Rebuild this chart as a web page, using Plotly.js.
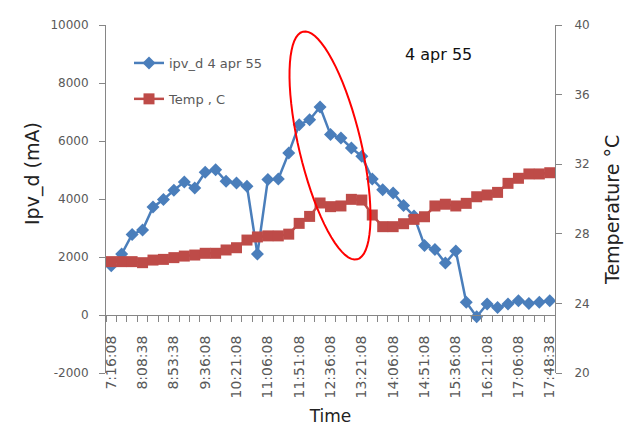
<!DOCTYPE html>
<html><head><meta charset="utf-8">
<script src="https://cdn.plot.ly/plotly-3.0.1.min.js"></script>
<style>html,body{margin:0;padding:0;background:#fff}</style>
</head><body><div id="chart" style="width:628px;height:435px"></div>
<script>
const tickLabels = ["7:16:08","8:08:38","8:53:38","9:36:08","10:21:08","11:06:08","11:51:08","12:36:08","13:21:08","14:06:08","14:51:08","15:36:08","16:21:08","17:06:08","17:48:38"];
const ipvD = [1700,2100,2780,2930,3720,3980,4300,4590,4380,4920,5010,4610,4550,4440,2100,4670,4690,5590,6560,6730,7170,6220,6100,5760,5470,4690,4320,4210,3780,3410,2400,2260,1790,2210,440,-60,380,260,380,490,400,440,490];
const tempC = [26.40,26.40,26.40,26.34,26.49,26.53,26.63,26.72,26.78,26.88,26.88,27.07,27.20,27.64,27.82,27.88,27.88,27.98,28.60,29.0,29.77,29.56,29.60,29.98,29.94,29.08,28.41,28.41,28.58,28.83,28.98,29.60,29.70,29.60,29.75,30.13,30.23,30.38,30.90,31.19,31.44,31.44,31.51];
const yTicks = [-2000, 0, 2000, 4000, 6000, 8000, 10000];
const yTickLabels = ["-2000", "0", "2000", "4000", "6000", "8000", "10000"];
const y2Ticks = [20, 24, 28, 32, 36, 40];
const labelStep = 3;

const idx = ipvD.map((_, i) => i);
const tickPos = tickLabels.map((_, k) => k * labelStep);

const W = 628, H = 435;
const M = {l: 106, r: 73, t: 25, b: 62};
const pw = W - M.l - M.r, ph = H - M.t - M.b;
const px2paperX = x => (x - M.l) / pw;
const px2paperY = y => (H - M.b - y) / ph;

// tilted ellipse (highlight) in pixel space -> paper coords
const ec = {x: 330, y: 145.5}, ea = 117, eb = 31;
const u = [0.231, 0.973], v = [0.973, -0.231];
let path = '';
for (let k = 0; k <= 72; k++) {
  const t = 2 * Math.PI * k / 72;
  const X = ec.x + ea * Math.cos(t) * u[0] + eb * Math.sin(t) * v[0];
  const Y = ec.y + ea * Math.cos(t) * u[1] + eb * Math.sin(t) * v[1];
  path += (k === 0 ? 'M' : 'L') + px2paperX(X).toFixed(4) + ',' + px2paperY(Y).toFixed(4);
}
path += 'Z';

const font = 'DejaVu Sans, Verdana, sans-serif';
const gray = '#868686';

const traces = [
  {x: idx, y: ipvD, name: 'ipv_d 4 apr 55', type: 'scatter', mode: 'lines+markers',
   legendgroup: 'a',
   line: {color: '#4a7ebb', width: 2.5}, marker: {symbol: 'diamond', size: 10, color: '#4a7ebb'}},
  {x: idx, y: tempC, name: 'Temp , C', type: 'scatter', mode: 'lines+markers', yaxis: 'y2',
   legendgroup: 'b',
   line: {color: '#be4b48', width: 2.5}, marker: {symbol: 'square', size: 11, color: '#be4b48'}}
];

const layout = {
  width: W, height: H, margin: M,
  paper_bgcolor: '#fff', plot_bgcolor: '#fff',
  font: {family: font, color: '#595959', size: 12},
  showlegend: true,
  legend: {x: px2paperX(129), y: px2paperY(48), xanchor: 'left', yanchor: 'top',
           bgcolor: 'rgba(0,0,0,0)', font: {family: font, size: 13, color: '#595959'},
           traceorder: 'grouped', tracegroupgap: 16},
  xaxis: {type: 'linear', range: [-0.5, ipvD.length - 0.5], anchor: 'free',
          position: px2paperY(315), showgrid: false, zeroline: false,
          showline: true, linecolor: gray, linewidth: 1,
          tickmode: 'array', tickvals: tickPos, ticktext: tickLabels, tickangle: -90,
          ticks: 'outside', ticklen: 14, tickcolor: 'rgba(0,0,0,0)',
          tickfont: {family: font, size: 14, color: '#595959'},
          minor: {tickmode: 'linear', tick0: -0.5, dtick: 1, ticks: 'outside', ticklen: 6, tickcolor: gray, showgrid: false},
          title: {text: 'Time', font: {family: font, size: 17, color: '#222'}, standoff: 12}},
  yaxis: {range: [-2000, 10000], tickmode: 'array', tickvals: yTicks, ticktext: yTickLabels,
          showgrid: false, zeroline: false,
          showline: true, linecolor: gray, ticks: 'outside', ticklen: 6, tickcolor: gray,
          ticklabelstandoff: 8,
          tickfont: {family: font, size: 12, color: '#595959'}},
  yaxis2: {range: [20, 40], tickmode: 'array', tickvals: y2Ticks, overlaying: 'y', side: 'right', showgrid: false,
           zeroline: false, showline: true, linecolor: gray, ticks: 'outside', ticklen: 6, tickcolor: gray,
           ticklabelstandoff: 10,
           tickfont: {family: font, size: 12, color: '#595959'}},
  annotations: [
    {text: '4 apr 55', xref: 'paper', yref: 'paper', x: px2paperX(438), y: px2paperY(55),
     xanchor: 'center', yanchor: 'middle',
     showarrow: false, font: {family: font, size: 16, color: '#111'}},
    {text: 'Ipv_d (mA)', xref: 'paper', yref: 'paper', x: px2paperX(33), y: px2paperY(174),
     xanchor: 'center', yanchor: 'middle',
     textangle: -90, showarrow: false, font: {family: font, size: 19, color: '#222'}},
    {text: 'Temperature °C', xref: 'paper', yref: 'paper', x: px2paperX(612), y: px2paperY(210),
     xanchor: 'center', yanchor: 'middle',
     textangle: -90, showarrow: false, font: {family: font, size: 19, color: '#222'}}
  ],
  shapes: [{type: 'path', xref: 'paper', yref: 'paper', path: path, line: {color: '#ff0000', width: 2}}]
};

Plotly.newPlot('chart', traces, layout, {displayModeBar: false, staticPlot: true});
</script></body></html>
